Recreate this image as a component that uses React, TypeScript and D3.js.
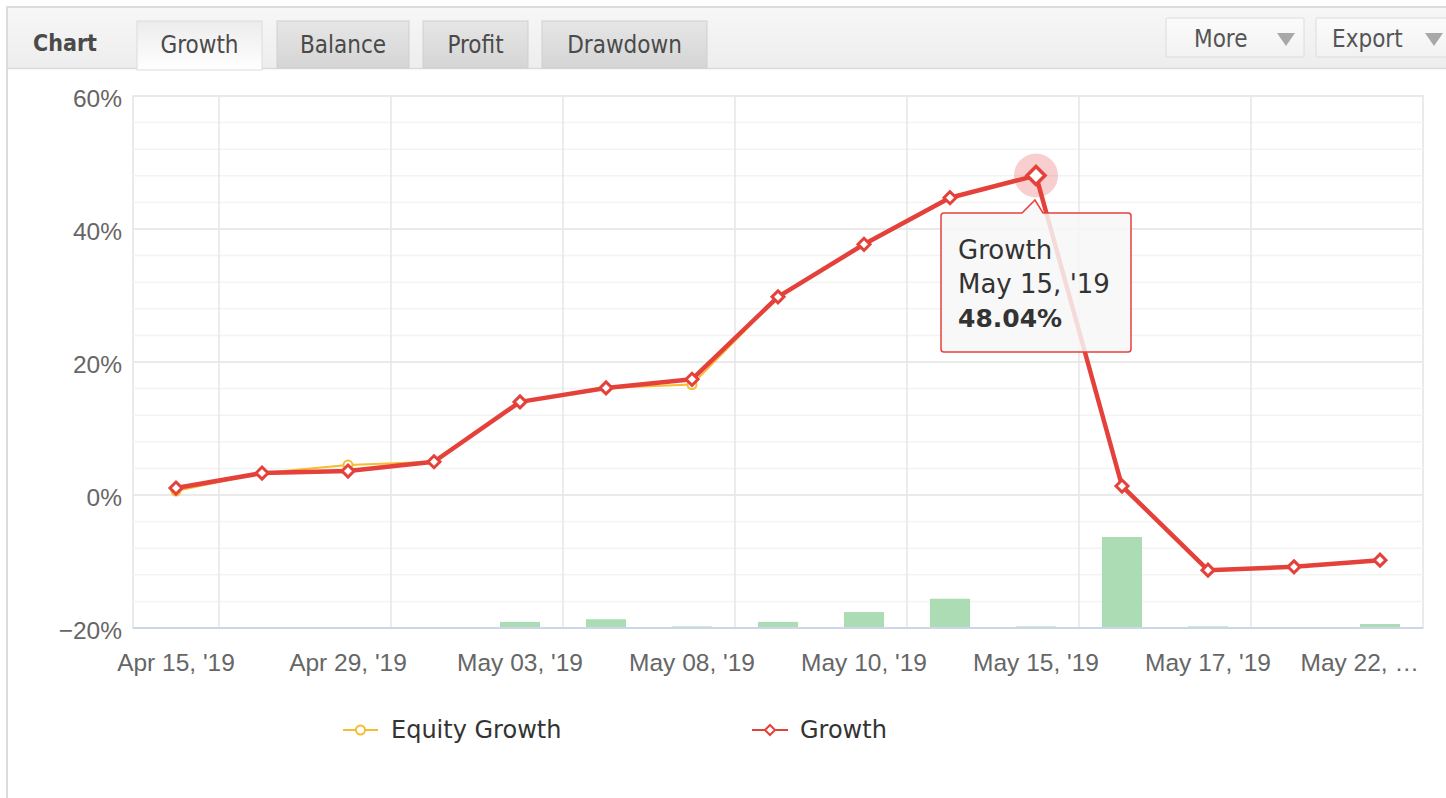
import React from "react";
import * as d3 from "d3";

const categories = [
  "Apr 15, '19", "Apr 22, '19", "Apr 29, '19", "May 01, '19", "May 03, '19",
  "May 07, '19", "May 08, '19", "May 09, '19", "May 10, '19", "May 14, '19",
  "May 15, '19", "May 16, '19", "May 17, '19", "May 21, '19", "May 22, '19",
];
const tickLabels = [
  "Apr 15, '19", "Apr 29, '19", "May 03, '19", "May 08, '19",
  "May 10, '19", "May 15, '19", "May 17, '19", "May 22, …",
];
const growth = [1.05, 3.3, 3.6, 5.0, 14.0, 16.1, 17.4, 29.8, 37.7, 44.7, 48.04, 1.35, -11.3, -10.8, -9.8];
const equityGrowth = [0.6, 3.3, 4.5, 5.0, 14.0, 16.1, 16.6, 29.8, 37.7, 44.7, 48.04, 1.35, -11.3, -10.8, -9.8];
const barValues = [0, 0, 0, 0, 1.15, 1.65, 0.3, 1.15, 3.0, 5.5, 0.3, 17.1, 0.3, 0, 0.75];
const yTicks = [-20, 0, 20, 40, 60];
const tabs = ["Growth", "Balance", "Profit", "Drawdown"];
const hoverIndex = 10;

const W = 1446, H = 798;
const plot = { left: 133, right: 1423, top: 96, bottom: 628 };
const RED = "#e5413b";
const YELLOW = "#f5bd2f";
const GREEN = "#acdcb4";
const AXIS_FONT = "'Liberation Sans', Arial, sans-serif";
const UI_FONT = "'DejaVu Sans Condensed', 'DejaVu Sans', sans-serif";
const TIP_FONT = "'DejaVu Sans', Verdana, sans-serif";

export default function App() {
  const x = d3.scaleBand<string>().domain(categories).range([plot.left, plot.right]).padding(0);
  const bw = x.bandwidth();
  const cx = (i: number) => (x(categories[i]) as number) + bw / 2;
  const y = d3.scaleLinear().domain([-20, 60]).range([plot.bottom, plot.top]);
  const yBar = d3.scaleLinear().domain([0, 100]).range([plot.bottom, plot.top]);
  const minorTicks = d3.range(-20, 60.001, 4);

  const line = d3.line<number>().x((_, i) => cx(i)).y((d) => y(d));
  const diamond = (px: number, py: number, r: number) =>
    `M${px},${py - r}L${px + r},${py}L${px},${py + r}L${px - r},${py}Z`;

  const tabX = [137, 277, 423, 542];
  const tabW = [125, 132, 105, 165];

  const hx = cx(hoverIndex), hy = y(growth[hoverIndex]);
  const tip = { x: 941, y: 213, w: 190, h: 139 };

  return (
    <svg width={W} height={H} style={{ position: "absolute", left: 0, top: 0, background: "#fff" }}>
      <defs>
        <linearGradient id="hdr" x1="0" y1="0" x2="0" y2="1">
          <stop offset="0" stopColor="#f7f7f7" />
          <stop offset="1" stopColor="#ededed" />
        </linearGradient>
        <linearGradient id="tabOff" x1="0" y1="0" x2="0" y2="1">
          <stop offset="0" stopColor="#e6e6e6" />
          <stop offset="1" stopColor="#d5d5d5" />
        </linearGradient>
        <linearGradient id="tabOn" x1="0" y1="0" x2="0" y2="1">
          <stop offset="0" stopColor="#ececec" />
          <stop offset="1" stopColor="#ffffff" />
        </linearGradient>
        <linearGradient id="btn" x1="0" y1="0" x2="0" y2="1">
          <stop offset="0" stopColor="#fbfbfb" />
          <stop offset="1" stopColor="#f2f2f2" />
        </linearGradient>
      </defs>

      {/* panel */}
      <rect x={7} y={7} width={W + 10} height={H + 10} fill="#fff" stroke="#dcdcdc" strokeWidth={2} />
      <rect x={8} y={8} width={W} height={60} fill="url(#hdr)" />
      <line x1={8} x2={W} y1={68.5} y2={68.5} stroke="#dadada" strokeWidth={1.5} />
      <text x={33} y={51} fontFamily={UI_FONT} fontWeight="bold" fontSize={23} fill="#4a4a4a">Chart</text>
      {tabs.map((t, i) => (
        <g key={t}>
          <rect x={tabX[i]} y={21} width={tabW[i]} height={i === 0 ? 49 : 47}
            fill={i === 0 ? "url(#tabOn)" : "url(#tabOff)"} stroke={i === 0 ? "#dcdcdc" : "#cfcfcf"} strokeWidth={1} />
          <text x={tabX[i] + tabW[i] / 2} y={53} textAnchor="middle" fontFamily={UI_FONT} fontSize={24} fill="#4a4a4a">{t}</text>
        </g>
      ))}
      {/* buttons */}
      {[{ label: "More", x0: 1166, w: 138 }, { label: "Export", x0: 1316, w: 150 }].map((b) => (
        <g key={b.label}>
          <rect x={b.x0} y={18} width={b.w} height={39} fill="url(#btn)" stroke="#dcdcdc" rx={1} />
          <text x={b.x0 + (b.label === "More" ? 28 : 16)} y={47} fontFamily={UI_FONT} fontSize={24} fill="#555">{b.label}</text>
          <path d={`M${b.x0 + (b.label === "More" ? 111 : 109)},33L${b.x0 + (b.label === "More" ? 129 : 127)},33L${b.x0 + (b.label === "More" ? 120 : 118)},46Z`} fill="#a8a8a8" />
        </g>
      ))}

      {/* plot background & grid */}
      <rect x={plot.left} y={plot.top} width={plot.right - plot.left} height={plot.bottom - plot.top} fill="#fff" stroke="#e4e4e4" strokeWidth={1.5} />
      {minorTicks.map((t) => (
        <line key={"m" + t} x1={plot.left} x2={plot.right} y1={y(t)} y2={y(t)} stroke="#f3f3f3" strokeWidth={1.5} />
      ))}
      {yTicks.map((t) => (
        <line key={"g" + t} x1={plot.left} x2={plot.right} y1={y(t)} y2={y(t)} stroke="#e6e6e6" strokeWidth={1.5} />
      ))}
      {categories.map((c, i) => (i % 2 === 1 ? (
        <line key={"v" + c} x1={x(c) as number} x2={x(c) as number} y1={plot.top} y2={plot.bottom} stroke="#e6e6e6" strokeWidth={1.5} />
      ) : null))}

      {/* bars */}
      {barValues.map((v, i) => (
        <rect key={"b" + i} x={cx(i) - bw * 0.233} width={bw * 0.466} y={yBar(v)} height={plot.bottom - yBar(v)} fill={GREEN} />
      ))}
      <line x1={plot.left} x2={plot.right} y1={plot.bottom} y2={plot.bottom} stroke="#ccd6eb" strokeWidth={2} />

      {/* y labels */}
      {yTicks.map((t) => (
        <text key={"yl" + t} x={122} y={y(t) + 11} textAnchor="end" fontFamily={AXIS_FONT} fontSize={24.5} fill="#666">
          {t < 0 ? "\u2212" + Math.abs(t) + "%" : t + "%"}
        </text>
      ))}
      {/* x labels */}
      {tickLabels.map((lab, k) => {
        const i = k * 2;
        const last = i === categories.length - 1;
        return (
          <text key={"xl" + k} x={last ? plot.right - 4 : cx(i)} y={671} textAnchor={last ? "end" : "middle"}
            fontFamily={AXIS_FONT} fontSize={24.5} fill="#666">{lab}</text>
        );
      })}

      {/* equity line */}
      <path d={line(equityGrowth) as string} fill="none" stroke={YELLOW} strokeWidth={2} strokeLinejoin="round" />
      {equityGrowth.map((v, i) => (
        <circle key={"ec" + i} cx={cx(i)} cy={y(v)} r={4.5} fill="#fff" stroke={YELLOW} strokeWidth={2} />
      ))}
      {/* growth line */}
      <circle cx={hx} cy={hy} r={22} fill={RED} fillOpacity={0.25} />
      <path d={line(growth) as string} fill="none" stroke={RED} strokeWidth={4.5} strokeLinejoin="round" />
      {growth.map((v, i) => (
        <path key={"gd" + i} d={diamond(cx(i), y(v), i === hoverIndex ? 9 : 6)} fill="#fff" stroke={RED} strokeWidth={i === hoverIndex ? 3.5 : 3} />
      ))}

      {/* tooltip */}
      <g>
        <path d={`M${tip.x + 3},${tip.y} L${hx - 14},${tip.y} L${hx - 1},${tip.y - 13} L${hx + 7},${tip.y} L${tip.x + tip.w - 3},${tip.y} Q${tip.x + tip.w},${tip.y} ${tip.x + tip.w},${tip.y + 3} L${tip.x + tip.w},${tip.y + tip.h - 3} Q${tip.x + tip.w},${tip.y + tip.h} ${tip.x + tip.w - 3},${tip.y + tip.h} L${tip.x + 3},${tip.y + tip.h} Q${tip.x},${tip.y + tip.h} ${tip.x},${tip.y + tip.h - 3} L${tip.x},${tip.y + 3} Q${tip.x},${tip.y} ${tip.x + 3},${tip.y}Z`}
          fill="#f7f7f7" fillOpacity={0.85} stroke={RED} strokeWidth={1.5} />
        <text x={958} y={259} fontFamily={TIP_FONT} fontSize={26} fill="#333">Growth</text>
        <text x={958} y={293} fontFamily={TIP_FONT} fontSize={26} fill="#333">{categories[hoverIndex]}</text>
        <text x={958} y={327} fontFamily={TIP_FONT} fontSize={25} fontWeight="bold" fill="#333">{growth[hoverIndex].toFixed(2)}%</text>
      </g>

      {/* legend */}
      <g>
        <line x1={343} x2={378} y1={730} y2={730} stroke={YELLOW} strokeWidth={2} />
        <circle cx={360.5} cy={730} r={4.5} fill="#fff" stroke={YELLOW} strokeWidth={2} />
        <text x={391} y={738} fontFamily={TIP_FONT} fontSize={24} fill="#333">Equity Growth</text>
        <line x1={752} x2={788} y1={730} y2={730} stroke={RED} strokeWidth={2} />
        <path d={diamond(770, 730, 5)} fill="#fff" stroke={RED} strokeWidth={2} />
        <text x={800} y={738} fontFamily={TIP_FONT} fontSize={24} fill="#333">Growth</text>
      </g>
    </svg>
  );
}
